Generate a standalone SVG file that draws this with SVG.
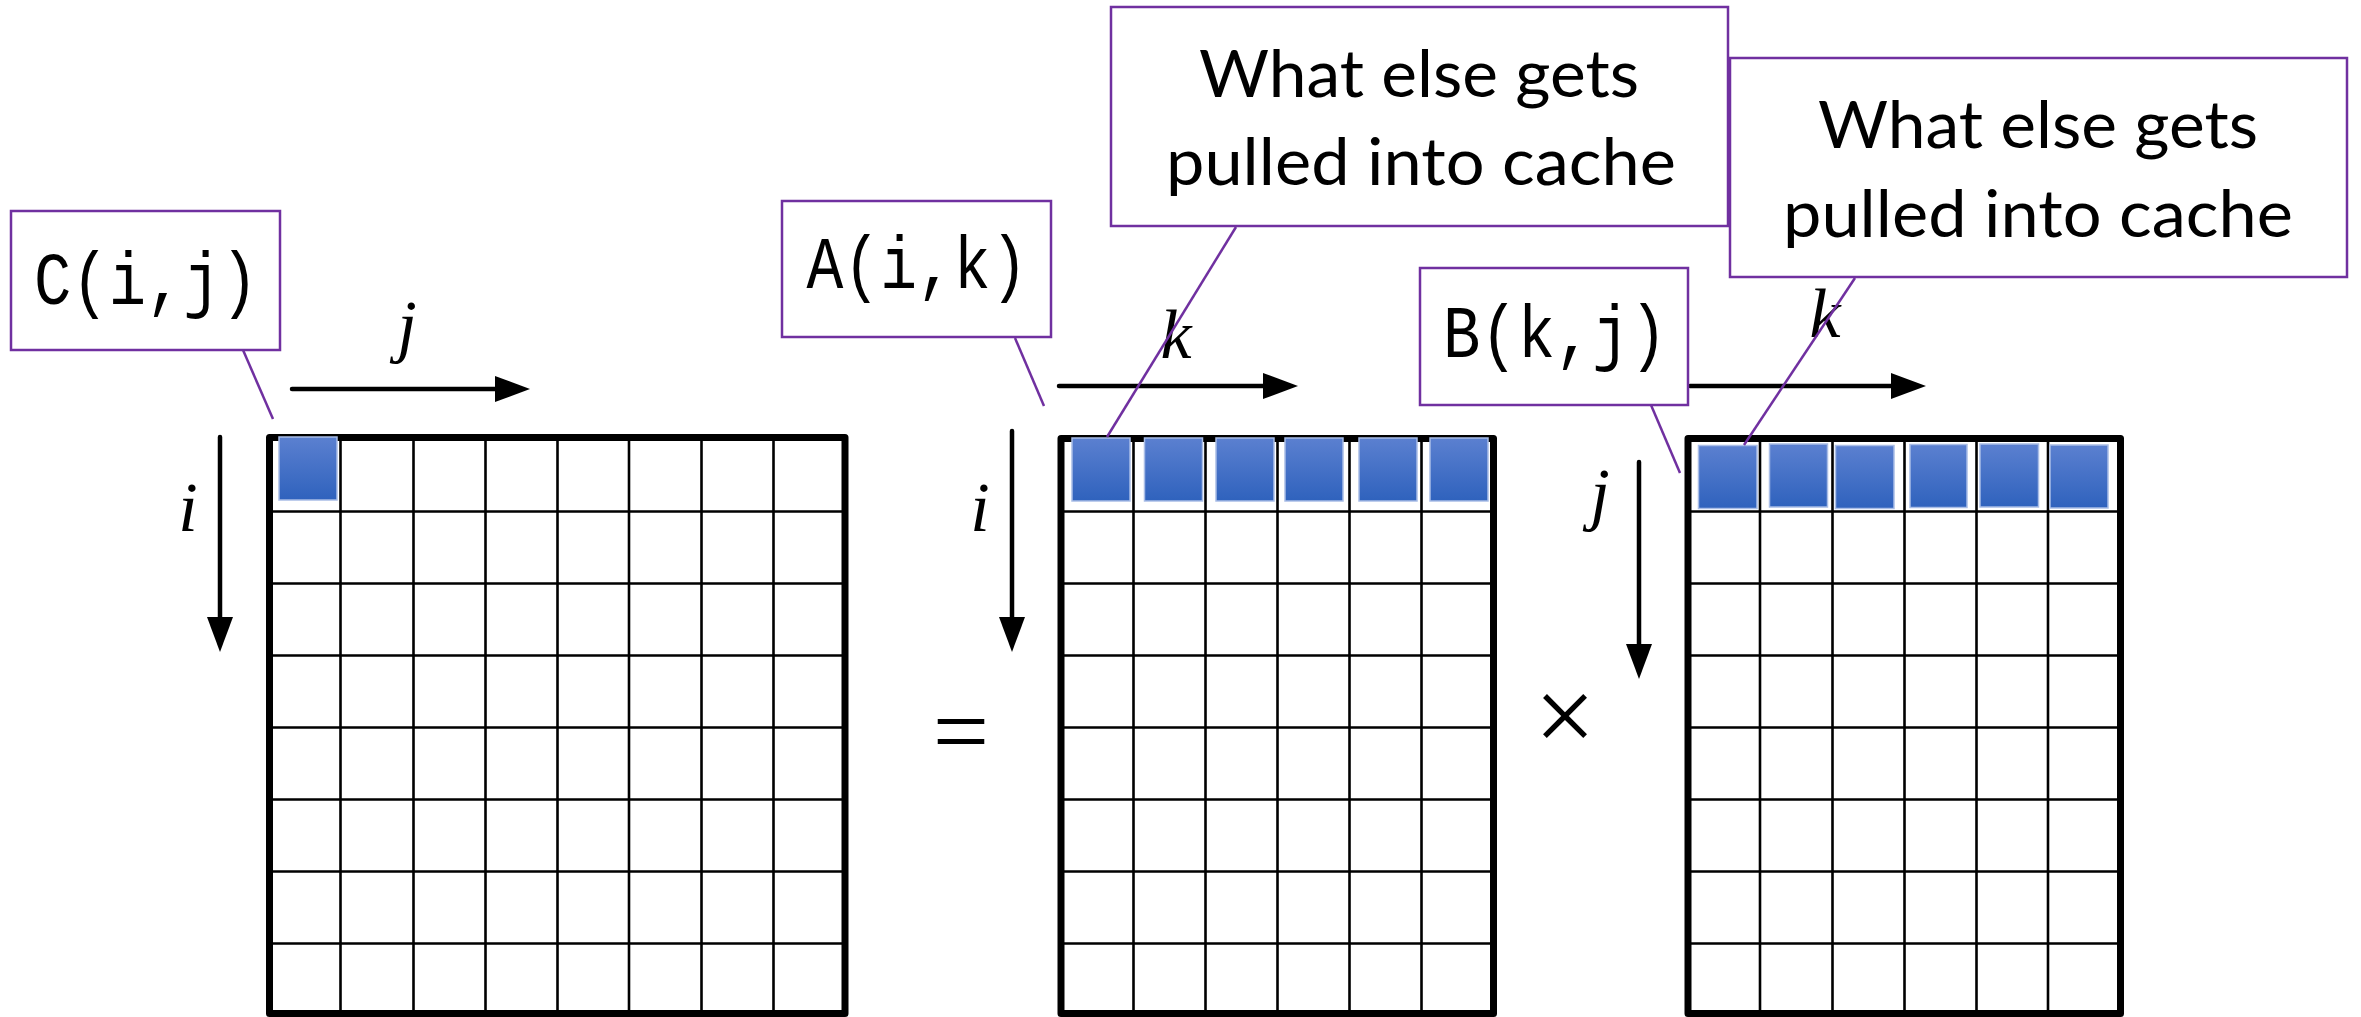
<svg xmlns="http://www.w3.org/2000/svg" width="2361" height="1017" viewBox="0 0 2361 1017">
<style>
.bg{fill:#fff}
.border{fill:none;stroke:#000;stroke-width:7;stroke-linejoin:round}
.grid{stroke:#000;stroke-width:2.6;fill:none}
.cell{fill:url(#blue);stroke:#a9bde6;stroke-width:1.5}
.box{fill:#fff;stroke:#7030a0;stroke-width:2.5}
.lead{stroke:#7030a0;stroke-width:2.5;fill:none}
.axis{stroke:#000;stroke-width:4.5;stroke-linecap:round;fill:none}
.tt{font-family:"Liberation Mono","DejaVu Sans Mono",monospace;font-size:74px;fill:#000;text-anchor:middle}
.note{font-family:Lato,"Open Sans",sans-serif;font-size:66px;fill:#000;text-anchor:middle}
.var{font-family:"Liberation Serif","DejaVu Serif",serif;font-style:italic;font-size:70px;fill:#000;text-anchor:middle}
.op{font-family:"Liberation Serif","DejaVu Serif",serif;fill:#000;text-anchor:middle}
</style>
<defs>
<linearGradient id="blue" x1="0" y1="0" x2="0" y2="1">
<stop offset="0" stop-color="#5b80d0"/>
<stop offset="1" stop-color="#2f62bd"/>
</linearGradient>
<marker id="ah" markerUnits="userSpaceOnUse" markerWidth="36" markerHeight="26" refX="0" refY="13" orient="auto">
<path d="M0,0 L35,13 L0,26 z" fill="#000"/>
</marker>
</defs>
<rect class="bg" x="0" y="0" width="2361" height="1017"/>

<g id="matrix-C">
<rect class="border" x="269.5" y="437.5" width="575.5" height="576"/>
<path class="grid" d="M340.5,437.5V1013.5M413.5,437.5V1013.5M485.5,437.5V1013.5M557.5,437.5V1013.5M629,437.5V1013.5M701.5,437.5V1013.5M773.5,437.5V1013.5M269.5,511.5H845M269.5,583.5H845M269.5,655.5H845M269.5,727.5H845M269.5,799.5H845M269.5,871.5H845M269.5,943.5H845"/>
<rect class="cell" x="279" y="437" width="58" height="63"/>
</g>

<g id="matrix-A">
<rect class="border" x="1061" y="438.5" width="432.5" height="575"/>
<path class="grid" d="M1133.5,438.5V1013.5M1205.5,438.5V1013.5M1277.5,438.5V1013.5M1349.5,438.5V1013.5M1421.5,438.5V1013.5M1061,511.5H1493.5M1061,583.5H1493.5M1061,655.5H1493.5M1061,727.5H1493.5M1061,799.5H1493.5M1061,871.5H1493.5M1061,943.5H1493.5"/>
<rect class="cell" x="1072" y="438" width="58" height="63"/>
<rect class="cell" x="1144.5" y="438" width="58" height="63"/>
<rect class="cell" x="1216" y="438" width="58" height="63"/>
<rect class="cell" x="1285" y="438" width="58" height="63"/>
<rect class="cell" x="1359" y="438" width="58" height="63"/>
<rect class="cell" x="1430" y="438" width="58" height="63"/>
</g>

<g id="matrix-B">
<rect class="border" x="1688" y="438.5" width="432.5" height="575"/>
<path class="grid" d="M1760,438.5V1013.5M1832.5,438.5V1013.5M1904.5,438.5V1013.5M1976.5,438.5V1013.5M2048,438.5V1013.5M1688,511.5H2120.5M1688,583.5H2120.5M1688,655.5H2120.5M1688,727.5H2120.5M1688,799.5H2120.5M1688,871.5H2120.5M1688,943.5H2120.5"/>
<rect class="cell" x="1698.5" y="445.5" width="58.5" height="63"/>
<rect class="cell" x="1769.5" y="444" width="58" height="63"/>
<rect class="cell" x="1835.5" y="445.5" width="58.5" height="63"/>
<rect class="cell" x="1910" y="444.5" width="57" height="63"/>
<rect class="cell" x="1980" y="444" width="58.5" height="63"/>
<rect class="cell" x="2050" y="445" width="58" height="63"/>
</g>

<g id="axes">
<line class="axis" x1="292" y1="389" x2="495" y2="389" marker-end="url(#ah)"/>
<line class="axis" x1="220" y1="437" x2="220" y2="617" marker-end="url(#ah)"/>
<line class="axis" x1="1059" y1="386" x2="1263" y2="386" marker-end="url(#ah)"/>
<line class="axis" x1="1012" y1="431" x2="1012" y2="617" marker-end="url(#ah)"/>
<line class="axis" x1="1690" y1="386" x2="1891" y2="386" marker-end="url(#ah)"/>
<line class="axis" x1="1639" y1="462" x2="1639" y2="644" marker-end="url(#ah)"/>
</g>

<g id="axis-labels">
<text class="var" x="407" y="349">j</text>
<text class="var" x="188" y="531">i</text>
<text class="var" x="1176" y="358">k</text>
<text class="var" x="980" y="531">i</text>
<text class="var" x="1825" y="337">k</text>
<text class="var" x="1600" y="517">j</text>
</g>

<g id="operators">
<text class="op" x="961" y="765" font-size="100">=</text>
<text class="op" x="1565" y="752" font-size="108">×</text>
</g>

<g id="connectors">
<line class="lead" x1="243" y1="350" x2="273" y2="419"/>
<line class="lead" x1="1015" y1="338" x2="1044" y2="406"/>
<line class="lead" x1="1651" y1="405" x2="1680" y2="473"/>
<line class="lead" x1="1236" y1="227" x2="1107" y2="437"/>
<line class="lead" x1="1855" y1="278" x2="1744" y2="445"/>
</g>

<g id="label-C">
<rect class="box" x="11" y="211" width="269" height="139"/>
<text class="tt" x="146" y="304" textLength="224" lengthAdjust="spacingAndGlyphs">C(i,j)</text>
</g>

<g id="label-A">
<rect class="box" x="782" y="201" width="269" height="136"/>
<text class="tt" x="917" y="288" textLength="221" lengthAdjust="spacingAndGlyphs">A(i,k)</text>
</g>

<g id="label-B">
<rect class="box" x="1420" y="268" width="268" height="137"/>
<text class="tt" x="1555" y="357" textLength="224" lengthAdjust="spacingAndGlyphs">B(k,j)</text>
</g>

<g id="note-A">
<rect class="box" x="1111" y="7" width="617" height="219"/>
<text class="note" x="1419" y="97" textLength="440" lengthAdjust="spacingAndGlyphs">What else gets</text>
<text class="note" x="1421" y="185" textLength="510" lengthAdjust="spacingAndGlyphs">pulled into cache</text>
</g>

<g id="note-B">
<rect class="box" x="1730" y="58" width="617" height="219"/>
<text class="note" x="2038" y="148" textLength="440" lengthAdjust="spacingAndGlyphs">What else gets</text>
<text class="note" x="2038" y="237" textLength="510" lengthAdjust="spacingAndGlyphs">pulled into cache</text>
</g>
</svg>
